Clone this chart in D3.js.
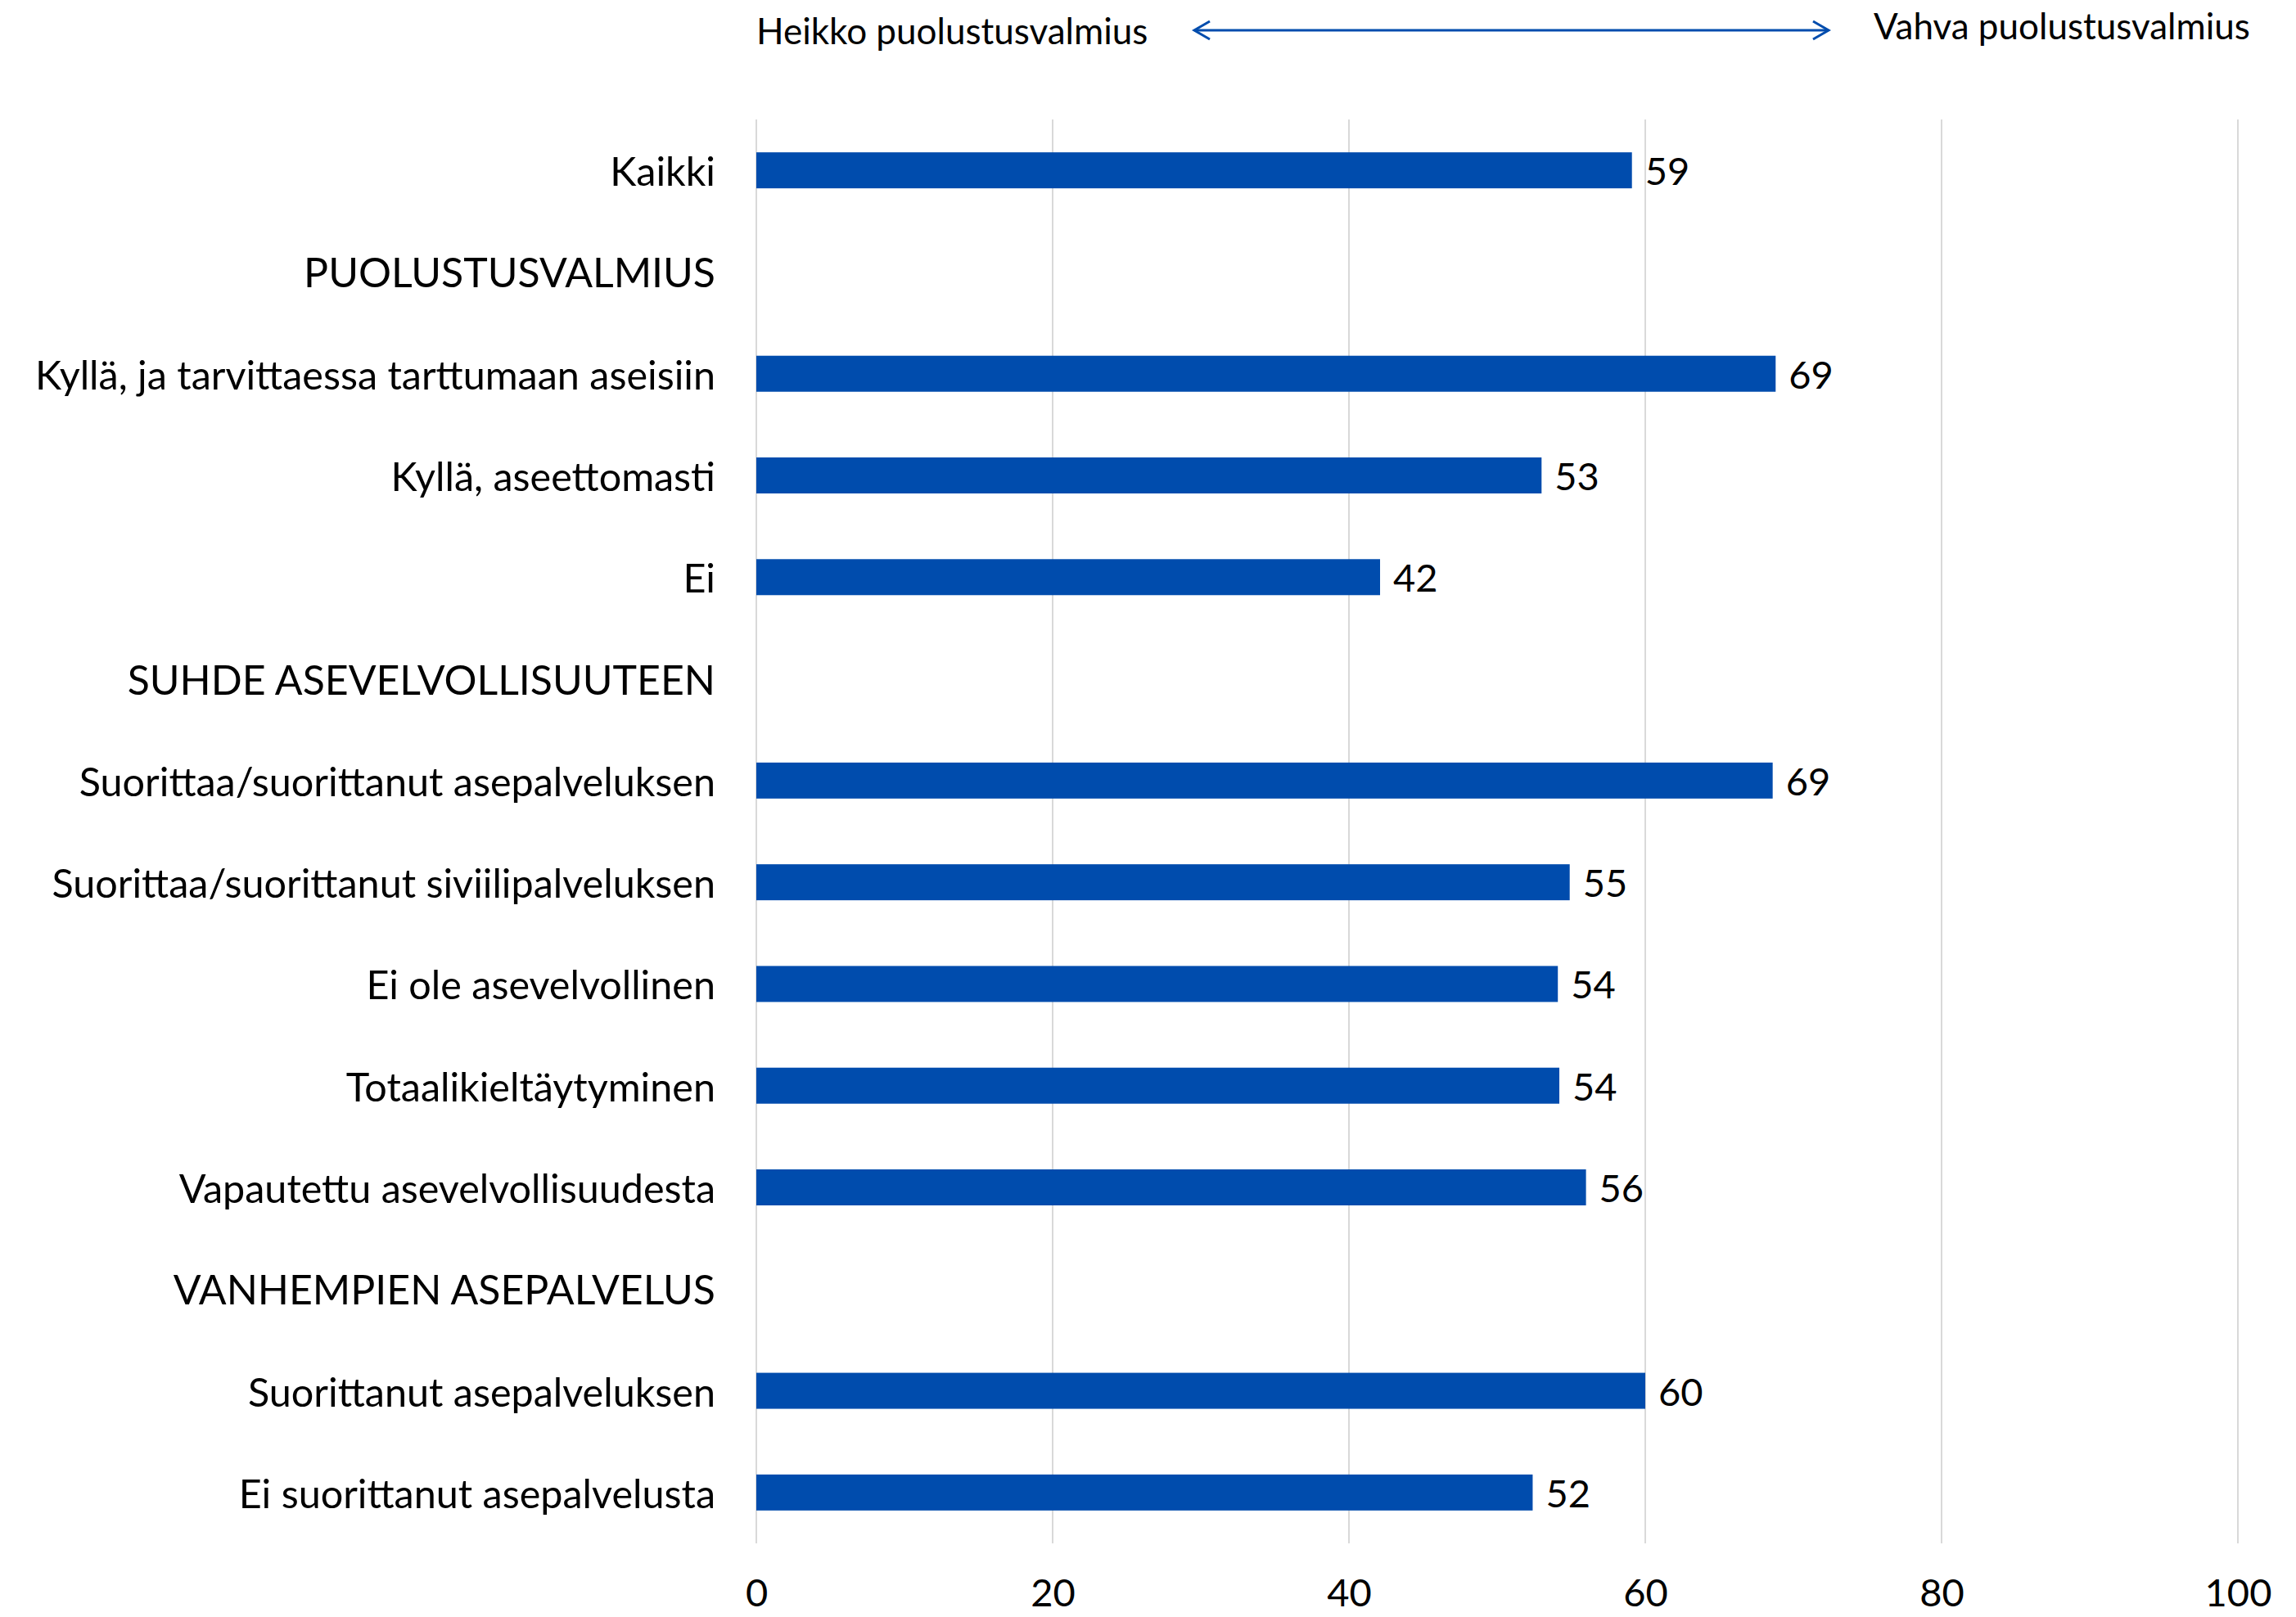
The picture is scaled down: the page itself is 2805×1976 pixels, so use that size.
<!DOCTYPE html>
<html>
<head>
<meta charset="utf-8">
<script src="https://cdn.jsdelivr.net/npm/d3@7"></script>
<style>
  html, body { margin: 0; padding: 0; background: #ffffff; }
  svg { display: block; }
  text { font-family: Lato, "Open Sans", sans-serif; fill: #000; }
</style>
</head>
<body>
<script>
// ---- data ----
const categories = [
  "Kaikki",
  "PUOLUSTUSVALMIUS",
  "Kyllä, ja tarvittaessa tarttumaan aseisiin",
  "Kyllä, aseettomasti",
  "Ei",
  "SUHDE ASEVELVOLLISUUTEEN",
  "Suorittaa/suorittanut asepalveluksen",
  "Suorittaa/suorittanut siviilipalveluksen",
  "Ei ole asevelvollinen",
  "Totaalikieltäytyminen",
  "Vapautettu asevelvollisuudesta",
  "VANHEMPIEN ASEPALVELUS",
  "Suorittanut asepalveluksen",
  "Ei suorittanut asepalvelusta"
];
const values = [59.1, null, 68.8, 53.0, 42.1, null, 68.6, 54.9, 54.1, 54.2, 56.0, null, 60.0, 52.4];
const xTicks = [0, 20, 40, 60, 80, 100];
const leftNote = "Heikko puolustusvalmius";
const rightNote = "Vahva puolustusvalmius";

// ---- layout ----
const W = 2805, H = 1976;
const FS_LABEL = 48.5, FS_HEAD = 50, FS_NUM = 47, FS_NOTE = 44;
const BLUE = "#004CAD";

const svg = d3.select("body").append("svg").attr("width", W).attr("height", H);

const x = d3.scaleLinear().domain([0, 100]).range([924, 2734]);
const y = d3.scaleBand().domain(categories).range([146, 1886])
  .paddingInner(0.646).paddingOuter(0.323);

const valueOf = new Map(categories.map((c, i) => [c, values[i]]));

// gridlines
svg.append("g").selectAll("line").data(xTicks).join("line")
  .attr("x1", d => x(d)).attr("x2", d => x(d))
  .attr("y1", 146).attr("y2", 1886)
  .attr("stroke", "#d9d9d9").attr("stroke-width", 2);

// x axis tick labels
const xAxis = d3.axisBottom(x).tickValues(xTicks).tickSize(0).tickPadding(0);
const gx = svg.append("g").attr("transform", "translate(0,1945)").call(xAxis);
gx.select(".domain").remove();
gx.selectAll("text").attr("dy", null).attr("dominant-baseline", "central")
  .style("font-family", "Lato, sans-serif").style("font-size", FS_NUM + "px").attr("fill", "#000");

// y axis category labels
const yAxis = d3.axisLeft(y).tickSize(0).tickPadding(50);
const gy = svg.append("g").attr("transform", `translate(${x(0)},0)`).call(yAxis);
gy.select(".domain").remove();
gy.selectAll("text").attr("dy", null).attr("dominant-baseline", "central")
  .style("font-family", "Lato, sans-serif")
  .style("font-size", d => (valueOf.get(d) === null ? FS_HEAD : FS_LABEL) + "px")
  .attr("fill", "#000");

const rows = categories.map((c, i) => ({ c, v: values[i] })).filter(d => d.v !== null);

// bars
svg.append("g").selectAll("rect").data(rows).join("rect")
  .attr("x", x(0)).attr("y", d => y(d.c))
  .attr("width", d => x(d.v) - x(0)).attr("height", y.bandwidth())
  .attr("fill", BLUE);

// value labels
svg.append("g").selectAll("text").data(rows).join("text")
  .attr("x", d => x(d.v) + 16).attr("y", d => y(d.c) + y.bandwidth() / 2)
  .attr("dominant-baseline", "central")
  .style("font-size", FS_NUM + "px")
  .text(d => d3.format(".0f")(d.v));

// top annotation
svg.append("text").attr("x", 924).attr("y", 54).style("font-size", FS_NOTE + "px").text(leftNote);
svg.append("text").attr("x", 2289).attr("y", 48).style("font-size", FS_NOTE + "px").text(rightNote);

const ax1 = 1458, ax2 = 2235, ay = 37;
svg.append("line").attr("x1", ax1 + 1).attr("x2", ax2 - 1).attr("y1", ay).attr("y2", ay)
  .attr("stroke", BLUE).attr("stroke-width", 3);
svg.append("path").attr("d", `M${ax1 + 20},${ay - 11} L${ax1 + 1},${ay} L${ax1 + 20},${ay + 11}`)
  .attr("fill", "none").attr("stroke", BLUE).attr("stroke-width", 3);
svg.append("path").attr("d", `M${ax2 - 20},${ay - 11} L${ax2 - 1},${ay} L${ax2 - 20},${ay + 11}`)
  .attr("fill", "none").attr("stroke", BLUE).attr("stroke-width", 3);
</script>
</body>
</html>
